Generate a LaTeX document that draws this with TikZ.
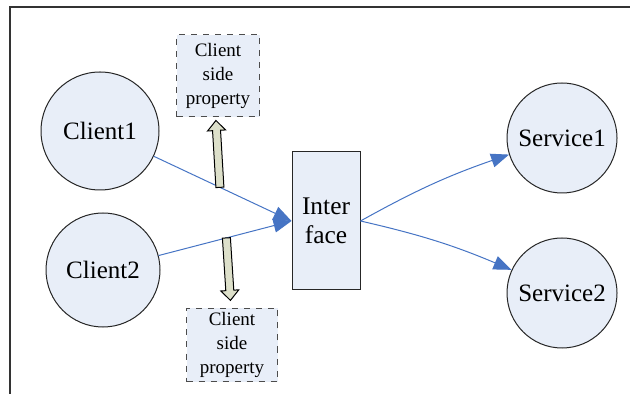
\documentclass[tikz,border=0pt]{standalone}
\usepackage{fontspec}
\setmainfont{Liberation Serif}
\usetikzlibrary{arrows.meta}
\definecolor{nodefill}{RGB}{232,238,248}
\definecolor{linkblue}{RGB}{70,116,196}
\definecolor{propfill}{RGB}{221,224,202}
\newcommand{\blockarrow}[1]{%
  \filldraw[draw=black, fill=propfill, line width=0.5pt]
    (0,-2) -- (#1-5,-2) -- (#1-5,-4.5) -- (#1,0) -- (#1-5,4.5) -- (#1-5,2) -- (0,2) -- cycle;}
\begin{document}
\begin{tikzpicture}[x=0.5pt, y=-0.5pt,
  party/.style={circle, draw=black!85, fill=nodefill, line width=0.5pt, inner sep=0pt,
    font=\fontsize{12.5}{14}\selectfont},
  propbox/.style={draw=black!70, dashed, fill=nodefill, line width=0.5pt, inner sep=0pt,
    align=center, font=\fontsize{9.5}{12}\selectfont},
  link/.style={draw=linkblue, line width=0.5pt, -{Triangle[length=9pt, width=7pt]}}
]
  \useasboundingbox (0,0) rectangle (630,394);
  % Frame
  \draw[black!80, line width=0.6pt] (10,394) -- (10,7) -- (630,7);

  % Clients and services
  \node[party, minimum size=59pt] (client1) at (100,131) {Client1};
  \node[party, minimum size=57pt] (client2) at (103,270) {Client2};
  \node[party, minimum size=55pt] (service1) at (562,138) {Service1};
  \node[party, minimum size=55pt] (service2) at (562,293) {Service2};

  % Interface
  \node[draw=black!85, fill=nodefill, line width=0.5pt, minimum width=34pt, minimum height=69pt,
    inner sep=0pt, align=center, font=\fontsize{12.7}{14.5}\selectfont] (iface) at (326,221) {Inter\\face};

  % Property boxes
  \node[propbox, minimum width=41.5pt, minimum height=41pt] (prop1) at (218,76) {Client\\side\\property};
  \node[propbox, minimum width=45.5pt, minimum height=36.5pt] (prop2) at (232,345) {Client\\side\\property};

  % Links
  \draw[link] (client1) -- coordinate[pos=0.48] (c1) (iface.west);
  \draw[link] (client2) -- coordinate[pos=0.51] (c2) (iface.west);
  \draw[link] (iface.east) to[bend left=5] (service1);
  \draw[link] (iface.east) to[bend left=5] (service2);

  % Block arrows (line to property box)
  \begin{scope}[shift={(c1)}, x=1pt, y=1pt, rotate=93.4]
    \blockarrow{33.5}
  \end{scope}
  \begin{scope}[shift={(c2)}, x=1pt, y=1pt, rotate=-86.3]
    \blockarrow{31.3}
  \end{scope}
\end{tikzpicture}
\end{document}
